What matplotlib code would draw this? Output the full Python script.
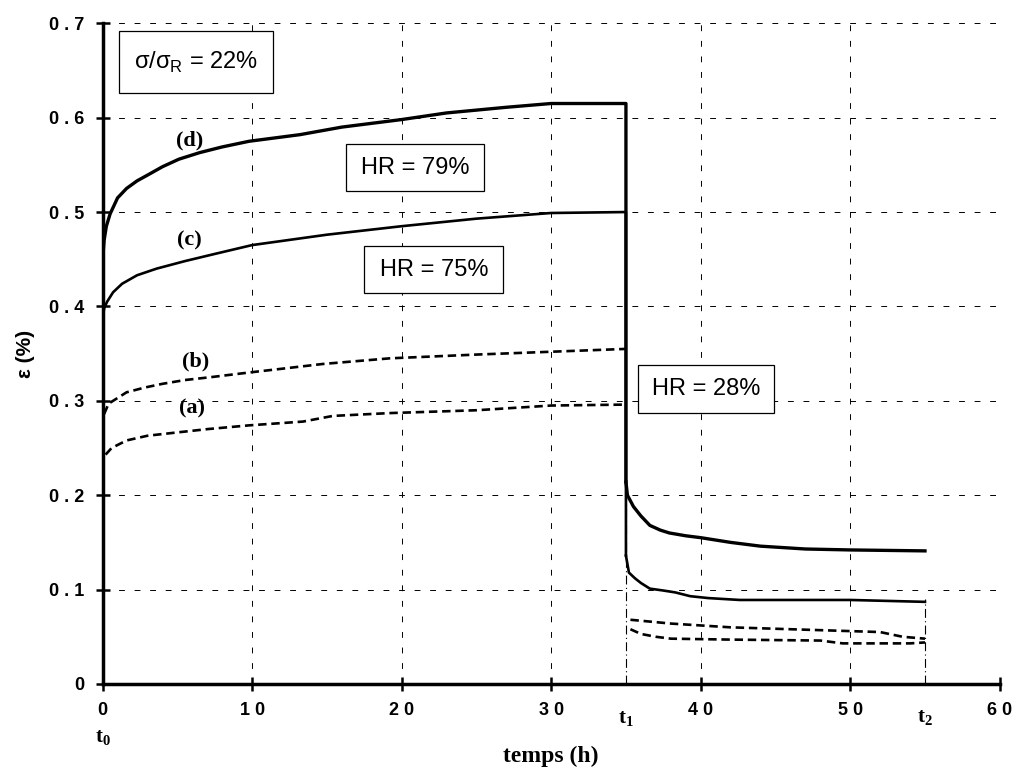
import matplotlib
matplotlib.use('Agg')
import matplotlib.pyplot as plt
import numpy as np

plt.rcParams['mathtext.fontset'] = 'custom'
plt.rcParams['mathtext.rm'] = 'Liberation Serif:bold'
plt.rcParams['mathtext.sf'] = 'Liberation Sans'

# loading phase (t in h, strain in %)
d_t = [0, 0, 0.1, 0.25, 0.5, 1, 1.6, 2.3, 3.1, 4, 5.1, 6.5, 8, 9.8, 13.2, 16, 20, 23, 27, 30, 35, 35]
d_e = [0, 0.45, 0.47, 0.485, 0.498, 0.515, 0.525, 0.533, 0.540, 0.548, 0.556, 0.563, 0.569, 0.575,
       0.582, 0.59, 0.598, 0.605, 0.611, 0.615, 0.615, 0.214]
c_t = [0, 0, 0.1, 0.3, 0.7, 1.3, 2.3, 3.6, 5.5, 7.6, 10, 15, 20, 25, 30, 35, 35]
c_e = [0, 0.385, 0.398, 0.405, 0.415, 0.424, 0.433, 0.44, 0.448, 0.456, 0.465, 0.476, 0.485,
       0.493, 0.499, 0.50, 0.136]
b_t = [0.1, 0.4, 0.9, 1.6, 2.8, 4, 5.5, 7.2, 9.8, 12, 14.7, 19.2, 25, 30, 35]
b_e = [0.286, 0.297, 0.302, 0.309, 0.314, 0.318, 0.322, 0.325, 0.330, 0.334, 0.339, 0.345, 0.349,
       0.352, 0.355]
a_t = [0.2, 0.6, 1.6, 3, 4.7, 7, 9.8, 13.4, 15.4, 19.2, 25, 30, 35]
a_e = [0.243, 0.25, 0.258, 0.263, 0.266, 0.27, 0.274, 0.278, 0.284, 0.287, 0.29, 0.295, 0.296]

# recovery phase
dr_t = [35, 35.1, 35.5, 36, 36.6, 37.3, 37.9, 39, 40, 42, 44, 47, 50, 55]
dr_e = [0.214, 0.200, 0.188, 0.178, 0.168, 0.163, 0.160, 0.157, 0.155, 0.150, 0.146, 0.143, 0.142,
        0.141]
cr_t = [35, 35.2, 35.6, 36, 36.6, 37.5, 38.3, 39.3, 40.5, 42.6, 50, 55]
cr_e = [0.136, 0.118, 0.112, 0.107, 0.101, 0.099, 0.097, 0.093, 0.091, 0.089, 0.089, 0.087]
br_t = [35.3, 36, 38, 42, 48, 52, 53.5, 55]
br_e = [0.068, 0.067, 0.064, 0.060, 0.057, 0.055, 0.050, 0.048]
ar_t = [35.3, 36, 37, 38, 42, 48, 49.5, 54, 55]
ar_e = [0.058, 0.053, 0.050, 0.048, 0.047, 0.046, 0.043, 0.043, 0.044]

t_marks = [35, 55]
t_mark_tops = [0.21, 0.09]

fig = plt.figure(figsize=(10.16, 7.76), dpi=100)
ax = fig.add_axes([0.101, 0.1186, 0.883, 0.8514])

dash = (0, (3.2, 1.8))
ax.plot(d_t, d_e, color='black', lw=2.4)
ax.plot(c_t, c_e, color='black', lw=1.9)
ax.plot(b_t, b_e, color='black', lw=1.9, ls=dash)
ax.plot(a_t, a_e, color='black', lw=1.9, ls=dash)
ax.plot(dr_t, dr_e, color='black', lw=2.4)
ax.plot(cr_t, cr_e, color='black', lw=1.9)
ax.plot(br_t, br_e, color='black', lw=1.9, ls=dash)
ax.plot(ar_t, ar_e, color='black', lw=1.9, ls=dash)

for x, top in zip(t_marks, t_mark_tops):
    ax.plot([x, x], [0, top], color='black', lw=0.8, ls=(0, (8, 3, 1, 3)))

ax.set_xlim(0, 60)
ax.set_ylim(0, 0.7)
ax.set_xticks(np.arange(0, 61, 10))
ax.set_yticks(np.arange(0, 0.71, 0.1))
ax.set_xticklabels(['0', '1 0', '2 0', '3 0', '4 0', '5 0', '6 0'],
                   fontfamily='Liberation Sans', fontweight='bold', fontsize=13)
ax.set_yticklabels(['0', '0 . 1', '0 . 2', '0 . 3', '0 . 4', '0 . 5', '0 . 6', '0 . 7'],
                   fontfamily='Liberation Sans', fontweight='bold', fontsize=13)
ax.tick_params(direction='inout', length=10, width=1.8, pad=8)
ax.grid(True, color='black', lw=0.7, ls=(0, (6, 10)))

for s in ['top', 'right']:
    ax.spines[s].set_visible(False)
for s in ['left', 'bottom']:
    ax.spines[s].set_linewidth(2.5)

ax.set_xlabel('temps (h)', fontfamily='Liberation Serif', fontweight='bold', fontsize=17, labelpad=19)
ax.set_ylabel('ε (%)', fontfamily='Liberation Sans', fontweight='bold', fontsize=15, labelpad=10)

serif = dict(fontfamily='Liberation Serif', fontweight='bold', fontsize=16, ha='center', va='center')
ax.text(5.8, 0.576, '(d)', **serif)
ax.text(5.8, 0.470, '(c)', **serif)
ax.text(6.2, 0.342, '(b)', **serif)
ax.text(6.0, 0.292, '(a)', **serif)

ax.text(0, -0.056, r'$\mathrm{t_0}$', fontsize=15, ha='center', va='center', clip_on=False)
ax.text(35, -0.036, r'$\mathrm{t_1}$', fontsize=15, ha='center', va='center', clip_on=False)
ax.text(55, -0.035, r'$\mathrm{t_2}$', fontsize=15, ha='center', va='center', clip_on=False)

boxes = [(1.1, 11.4, 0.626, 0.692, r'σ/σ$_\mathsf{R}$ = 22%'),
         (16.3, 25.5, 0.522, 0.572, 'HR = 79%'),
         (17.5, 26.8, 0.414, 0.464, 'HR = 75%'),
         (35.8, 44.9, 0.287, 0.338, 'HR = 28%')]
for x0, x1, y0, y1, label in boxes:
    ax.add_patch(plt.Rectangle((x0, y0), x1 - x0, y1 - y0, fill=True, facecolor='white',
                               edgecolor='black', lw=0.9, zorder=3))
    ax.text((x0 + x1) / 2, (y0 + y1) / 2, label, fontfamily='Liberation Sans', fontsize=17,
            ha='center', va='center', zorder=4)

plt.savefig('out.png', dpi=100)
